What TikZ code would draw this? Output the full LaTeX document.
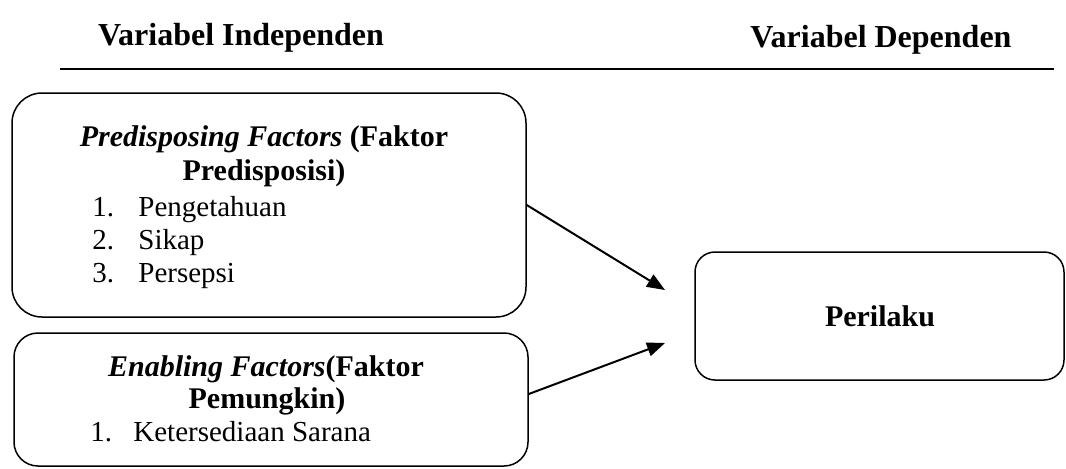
\documentclass[tikz,border=0pt]{standalone}
\usepackage{fontspec}
\setmainfont{Liberation Serif}
\usetikzlibrary{arrows.meta}
\begin{document}
\begin{tikzpicture}[x=0.5pt,y=-0.5pt,
  box/.style={draw,line width=0.75pt,inner sep=0pt,rectangle},
  head/.style={font=\fontsize{16}{18}\selectfont\bfseries,anchor=base,inner sep=0pt},
  ttl/.style={font=\fontsize{15}{17}\selectfont,anchor=base,inner sep=0pt},
  itm/.style={font=\fontsize{14.5}{16}\selectfont,anchor=base west,inner sep=0pt},
  conn/.style={line width=1pt,-{Triangle[length=9pt,width=7pt]}}]
\useasboundingbox (0,0) rectangle (1066,468);
% headings
\node[head] (hi) at (241,45) {Variabel Independen};
\node[head] (hd) at (881,47) {Variabel Dependen};
\coordinate (la) at (60,69);
\coordinate (lb) at (1054,69);
\draw[line width=1pt] (la) -- (lb);
% box 1
\node[box,rounded corners=15pt,minimum width=257pt,minimum height=112pt] (b1) at (269,205) {};
\node[ttl] (b1t1) at (264,146) {\textbf{\textit{Predisposing Factors}} \textbf{(Faktor}};
\node[ttl] (b1t2) at (264,180) {\textbf{Predisposisi)}};
\node[itm] (n1) at (92,216) {1.};
\node[itm] (i1) at (138,216) {Pengetahuan};
\node[itm] (n2) at (92,249) {2.};
\node[itm] (i2) at (138,249) {Sikap};
\node[itm] (n3) at (92,282) {3.};
\node[itm] (i3) at (138,282) {Persepsi};
% box 2
\node[box,rounded corners=12pt,minimum width=257pt,minimum height=66.5pt] (b2) at (271,399.5) {};
\node[ttl] (b2t1) at (266,376) {\textbf{\textit{Enabling Factors}}\textbf{(Faktor}};
\node[ttl] (b2t2) at (267,408) {\textbf{Pemungkin)}};
\node[itm] (m1) at (90,441) {1.};
\node[itm] (j1) at (133,441) {Ketersediaan Sarana};
% box 3
\node[box,rounded corners=10pt,minimum width=184.5pt,minimum height=64pt] (b3) at (879.5,316) {};
\node[ttl] (b3t) at (880,326) {\textbf{Perilaku}};
% arrows
\coordinate (e1) at (665,290);
\coordinate (e2) at (665,343);
\coordinate (s2) at (b2.east |- 0,394);
\draw[conn] (b1.east) -- (e1);
\draw[conn] (s2) -- (e2);
\end{tikzpicture}
\end{document}
